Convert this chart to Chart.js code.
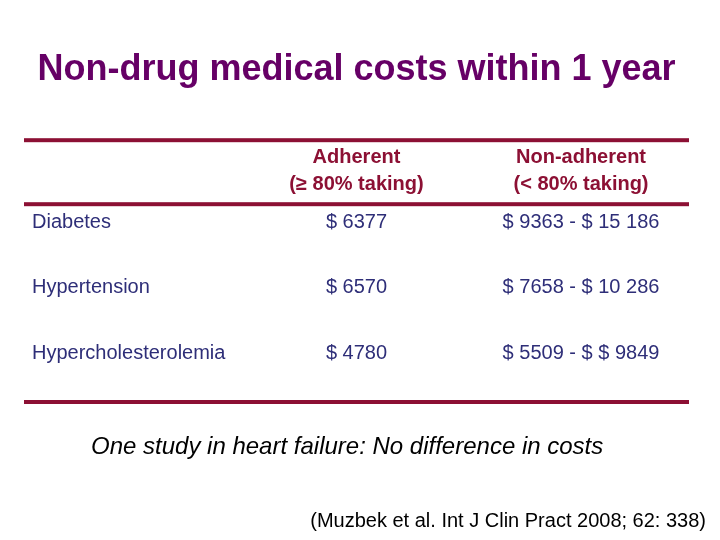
<!DOCTYPE html>
<html>
<head>
<meta charset="utf-8">
<script src="https://cdn.jsdelivr.net/npm/chart.js@4"></script>
<style>
  html, body { margin: 0; padding: 0; background: #ffffff; }
  #wrap { width: 720px; height: 540px; }
</style>
</head>
<body>
<div id="wrap"><canvas id="costChart" width="720" height="540"></canvas></div>
<script>
// Table data ---------------------------
const conditions = ['Diabetes', 'Hypertension', 'Hypercholesterolemia'];
const columnHeaders = [
    ['Adherent', '(\u2265 80% taking)'],
    ['Non-adherent', '(< 80% taking)']
];
const adherentCosts = ['$ 6377', '$ 6570', '$ 4780'];
const nonAdherentCosts = ['$ 9363 - $ 15 186', '$ 7658 - $ 10 286', '$ 5509 - $ $ 9849'];
const titleText = 'Non-drug medical costs within 1 year';
const noteText = 'One study in heart failure: No difference in costs';
const sourceText = '(Muzbek et al. Int J Clin Pract 2008; 62: 338)';

const FONT = "'Liberation Sans', Arial, sans-serif";
const RULE_COLOR = '#8c1034';
const HEAD_COLOR = '#8c1034';
const BODY_COLOR = '#2e2e78';

// Draws rules, headers, row names and cell texts at the points the scales give
const tablePlugin = {
    id: 'tableText',
    afterDatasetsDraw(chart) {
        const ctx = chart.ctx;
        const area = chart.chartArea;
        const xScale = chart.scales.x;

        ctx.save();

        // horizontal rules, full width of the plot area
        ctx.fillStyle = RULE_COLOR;
        const w = area.right - area.left;
        ctx.fillRect(area.left, area.top - 66, w, 4);
        ctx.fillRect(area.left, area.top - 2, w, 4);
        ctx.fillRect(area.left, area.bottom - 2, w, 4);

        // column headers
        ctx.fillStyle = HEAD_COLOR;
        ctx.font = 'bold 20px ' + FONT;
        ctx.textAlign = 'center';
        ctx.textBaseline = 'middle';
        columnHeaders.forEach(function(lines, j) {
            const x = xScale.getPixelForValue(j);
            ctx.fillText(lines[0], x, area.top - 47);
            ctx.fillText(lines[1], x, area.top - 20);
        });

        // row names + cells
        ctx.fillStyle = BODY_COLOR;
        ctx.font = '20px ' + FONT;
        const firstMeta = chart.getDatasetMeta(0);
        firstMeta.data.forEach(function(pt, i) {
            ctx.textAlign = 'left';
            ctx.fillText(conditions[i], area.left + 8, pt.y);
        });
        chart.data.datasets.forEach(function(ds, d) {
            const meta = chart.getDatasetMeta(d);
            ctx.textAlign = 'center';
            meta.data.forEach(function(pt, i) {
                ctx.fillText(ds.cellText[i], pt.x, pt.y);
            });
        });

        // notes under the table
        ctx.fillStyle = '#000000';
        ctx.textAlign = 'left';
        ctx.font = 'italic 24px ' + FONT;
        ctx.fillText(noteText, 91, area.bottom + 45);
        ctx.textAlign = 'right';
        ctx.font = '20px ' + FONT;
        ctx.fillText(sourceText, 706, area.bottom + 119);

        ctx.restore();
    }
};

const ctx = document.getElementById('costChart').getContext('2d');
const costChart = new Chart(ctx, {
    type: 'scatter',
    data: {
        datasets: [{
            label: columnHeaders[0][0],
            data: conditions.map(function(c, i) { return {x: 0, y: i}; }),
            cellText: adherentCosts,
            pointRadius: 0,
            pointHoverRadius: 0
        }, {
            label: columnHeaders[1][0],
            data: conditions.map(function(c, i) { return {x: 1, y: i}; }),
            cellText: nonAdherentCosts,
            pointRadius: 0,
            pointHoverRadius: 0
        }]
    },
    options: {
        responsive: false,
        animation: false,
        events: [],
        layout: {
            padding: { left: 24, right: 31, top: 0, bottom: 138 }
        },
        scales: {
            x: { type: 'linear', min: -1.481, max: 1.481, display: false },
            y: { type: 'linear', reverse: true, min: -0.275, max: 2.748, display: false }
        },
        plugins: {
            legend: { display: false },
            tooltip: { enabled: false },
            title: {
                display: true,
                text: titleText,
                color: '#660066',
                font: { family: FONT, size: 36, weight: 'bold' },
                padding: { top: 48, bottom: 113 }
            }
        }
    },
    plugins: [tablePlugin]
});
</script>
</body>
</html>
